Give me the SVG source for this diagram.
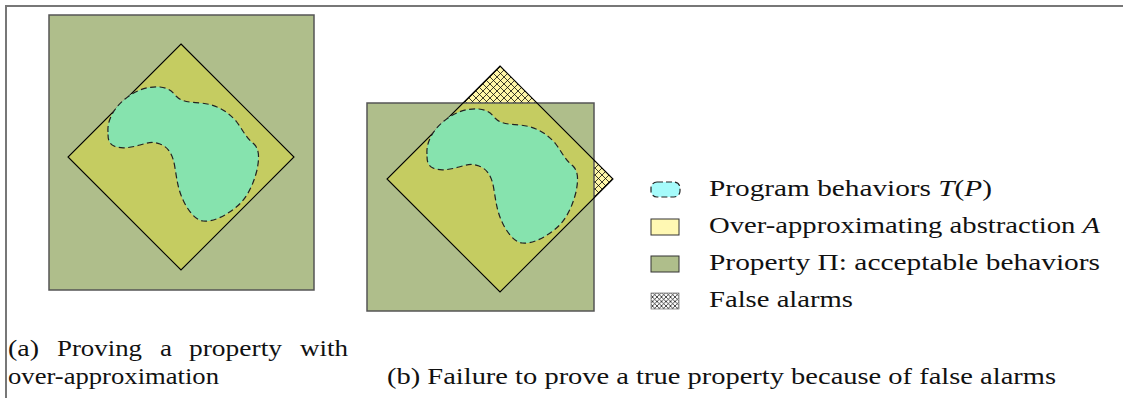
<svg xmlns="http://www.w3.org/2000/svg" xmlns:xlink="http://www.w3.org/1999/xlink" width="1123" height="398" viewBox="0 0 1123 398">
<style>
.prop{fill:#afbe8b;stroke:#555;stroke-width:1.5}
.propline{fill:none;stroke:#555;stroke-width:1.5}
.abs{fill:#c5cc61;stroke:none}
.absline{fill:none;stroke:#000;stroke-width:1.1}
.blob{fill:#86e3ae;stroke:#222;stroke-width:1.2;stroke-dasharray:6 3.5}
.txt{font-family:'Liberation Serif','Times New Roman',serif;font-size:24px;fill:#111}
.frame{fill:none;stroke:#777;stroke-width:2}
</style>
<defs>
<pattern id="hatch" width="7" height="7" patternUnits="userSpaceOnUse">
<rect width="7" height="7" fill="#fff7a8"/>
<path d="M0,0 L7,7 M7,0 L0,7 M-1,6 L1,8 M6,-1 L8,1 M-1,1 L1,-1 M6,8 L8,6" stroke="#000" stroke-width="0.75"/>
</pattern>
<pattern id="hatchIcon" width="4.5" height="4.5" patternUnits="userSpaceOnUse">
<rect width="4.5" height="4.5" fill="#fff"/>
<path d="M0,0 L4.5,4.5 M4.5,0 L0,4.5" stroke="#000" stroke-width="0.7"/>
</pattern>
<path id="blobShape" d="M108,132 C107,120 114,108 125,99 C136,90 148,86 160,87 C168,88 172,91 176,96 C181,101 186,102 200,103 C215,104 226,110 236,121 C243,130 246,138 254,144 C260,150 259,160 257,170 C253,186 246,200 235,208 C224,217 212,222 203,221 C195,220 188,210 184,202 C178,190 177,180 175,168 C173,154 168,147 160,144 C152,141 147,143 140,145 C130,148 120,149 114,146 C108,143 108,138 108,132 Z"/>
<clipPath id="sqB"><rect x="367" y="103" width="227" height="208"/></clipPath>
</defs>
<g id="frame">
<path class="frame" d="M6,398 L6,6 L1123,6"/>
</g>
<g id="panel-a">
<rect class="prop" x="49" y="15" width="265" height="275"/>
<polygon class="abs" points="181,44 294,157 181,270 68,157"/>
<polygon class="absline" points="181,44 294,157 181,270 68,157"/>
<use xlink:href="#blobShape" class="blob"/>
</g>
<g id="panel-b">
<polygon points="500,66 613,179 500,292 387,179" fill="url(#hatch)"/>
<rect x="367" y="103" width="227" height="208" fill="#afbe8b"/>
<polygon class="abs" points="500,66 613,179 500,292 387,179" clip-path="url(#sqB)"/>
<rect class="propline" x="367" y="103" width="227" height="208"/>
<polygon class="absline" points="500,66 613,179 500,292 387,179"/>
<use xlink:href="#blobShape" class="blob" transform="translate(319,22)"/>
</g>
<g id="legend">
<rect x="651" y="182" width="29" height="15" rx="6" fill="#a6fbfb" stroke="#222" stroke-width="1.2" stroke-dasharray="6 3"/>
<text class="txt" x="709" y="196" textLength="283" lengthAdjust="spacingAndGlyphs">Program behaviors <tspan font-style="italic">T</tspan>(<tspan font-style="italic">P</tspan>)</text>
<rect x="651" y="219" width="28" height="16" fill="#fff8b3" stroke="#333" stroke-width="1"/>
<text class="txt" x="709" y="233" textLength="391" lengthAdjust="spacingAndGlyphs">Over-approximating abstraction <tspan font-style="italic">A</tspan></text>
<rect x="651" y="256" width="28" height="16" fill="#afbe8b" stroke="#333" stroke-width="1"/>
<text class="txt" x="709" y="270" textLength="391" lengthAdjust="spacingAndGlyphs">Property Π: acceptable behaviors</text>
<rect x="651" y="293" width="28" height="16" fill="url(#hatchIcon)" stroke="#555" stroke-width="0.6"/>
<text class="txt" x="709" y="307" textLength="144" lengthAdjust="spacingAndGlyphs">False alarms</text>
</g>
<g id="captions">
<text class="txt" x="8" y="356" textLength="31" lengthAdjust="spacingAndGlyphs">(a)</text>
<text class="txt" x="57" y="356" textLength="85" lengthAdjust="spacingAndGlyphs">Proving</text>
<text class="txt" x="160" y="356" textLength="12" lengthAdjust="spacingAndGlyphs">a</text>
<text class="txt" x="189" y="356" textLength="93" lengthAdjust="spacingAndGlyphs">property</text>
<text class="txt" x="300" y="356" textLength="48" lengthAdjust="spacingAndGlyphs">with</text>
<text class="txt" x="8" y="384" textLength="211" lengthAdjust="spacingAndGlyphs">over-approximation</text>
<text class="txt" x="387" y="384" textLength="669" lengthAdjust="spacingAndGlyphs">(b) Failure to prove a true property because of false alarms</text>
</g>
</svg>
